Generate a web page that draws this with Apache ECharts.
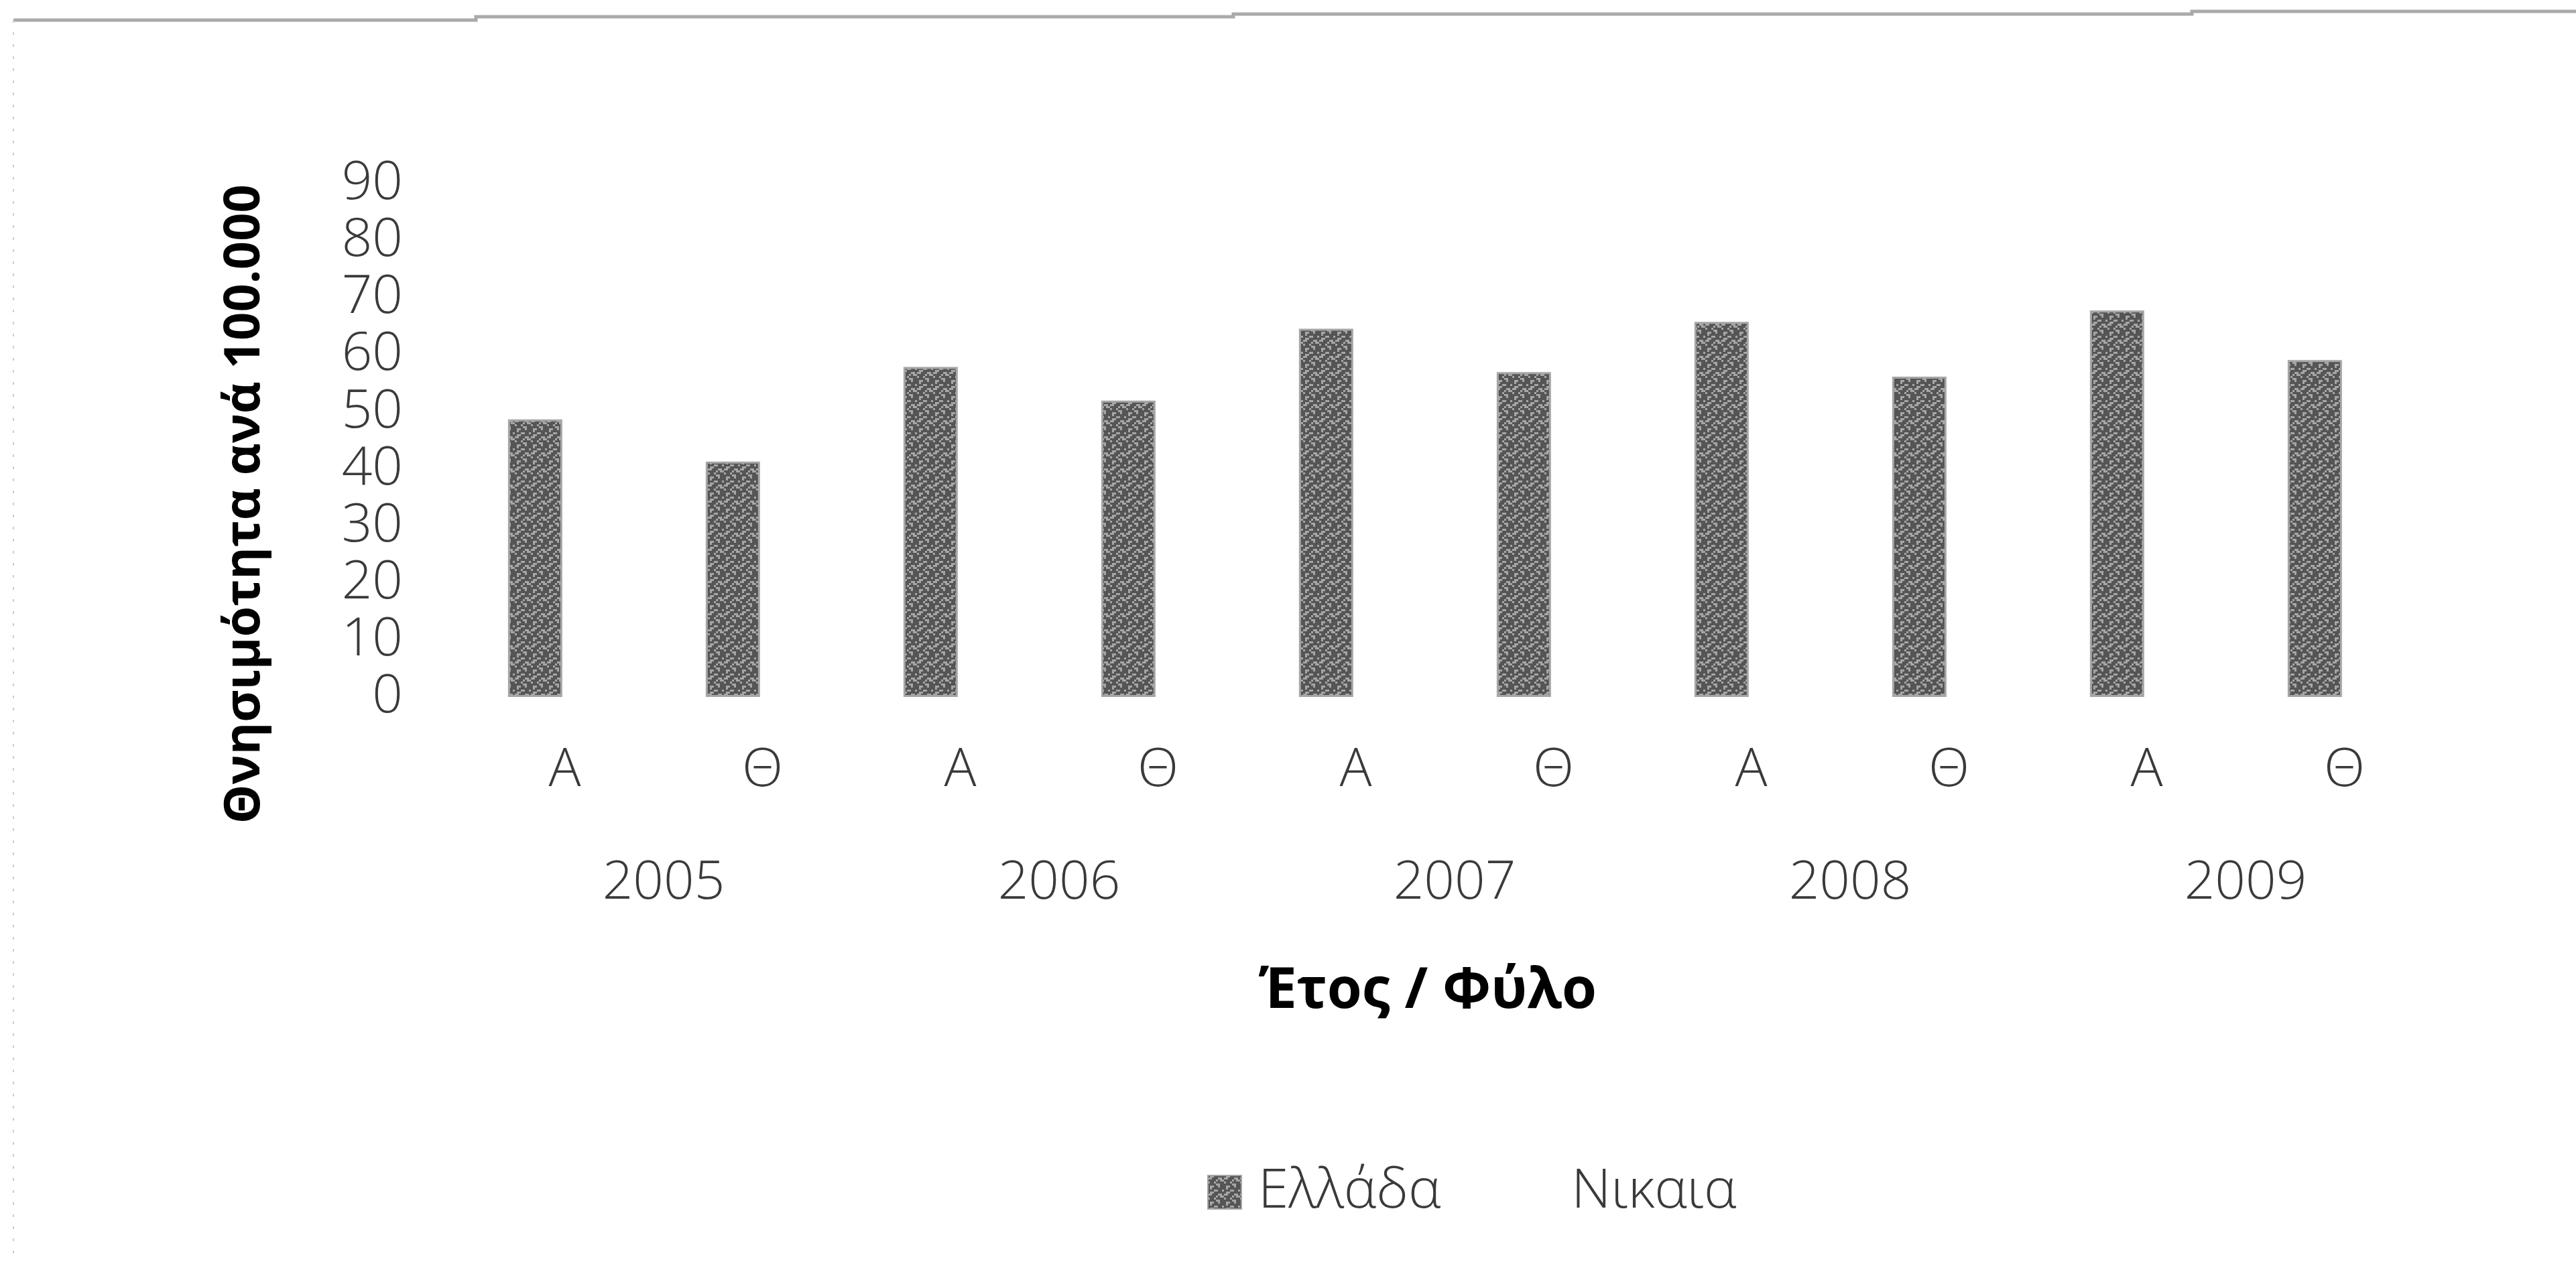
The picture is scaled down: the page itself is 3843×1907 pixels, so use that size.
<!DOCTYPE html>
<html>
<head>
<meta charset="utf-8">
<title>Θνησιμότητα</title>
<script src="https://cdn.jsdelivr.net/npm/echarts@6/dist/echarts.min.js"></script>
<style>
  html, body { margin: 0; padding: 0; background: #fff; }
  #main { width: 3843px; height: 1907px; }
</style>
</head>
<body>
<div id="main"></div>
<script>
// δεδομένα
var sexLabels = ['Α', 'Θ', 'Α', 'Θ', 'Α', 'Θ', 'Α', 'Θ', 'Α', 'Θ'];
var yearLabels = ['2005', '2006', '2007', '2008', '2009'];
var greeceValues = [48.7, 41.3, 57.9, 52.0, 64.6, 57.0, 65.8, 56.2, 67.8, 59.1];
// Νικαια: δεν φαίνονται ράβδοι στο γράφημα
var nikaiaValues = [null, null, null, null, null, null, null, null, null, null];
var yTicks = { min: 0, max: 90, step: 10 };

// μοτίβο γεμίσματος (σκούρο γκρι με ανοιχτές κηλίδες)
function makePattern() {
    var mask = [
        '01100000',
        '11000110',
        '00001011',
        '10010000',
        '00001100',
        '01100100',
        '01000000',
        '00011001'
    ];
    var cell = 3;
    var c = document.createElement('canvas');
    c.width = 8 * cell; c.height = 8 * cell;
    var ctx = c.getContext('2d');
    for (var y = 0; y < 8; y++) {
        for (var x = 0; x < 8; x++) {
            ctx.fillStyle = mask[y][x] === '1' ? '#a6a6a6' : '#555555';
            ctx.fillRect(x * cell, y * cell, cell, cell);
        }
    }
    return c;
}

var myChart = echarts.init(document.getElementById('main'));
var labelFont = "'Open Sans', 'Liberation Sans', sans-serif";

var option = {
    backgroundColor: '#ffffff',
    animation: false,
    grid: { left: 695, right: 198, top: 274.5, bottom: 867 },
    legend: {
        left: 1796,
        top: 1733,
        itemWidth: 50,
        itemHeight: 50,
        itemGap: 120,
        icon: 'rect',
        textStyle: { fontFamily: labelFont, fontWeight: 300, fontSize: 82, color: '#3a3a3a', padding: [0, 0, 0, 20] },
        data: ['Ελλάδα', 'Νικαια']
    },
    xAxis: [{
        type: 'category',
        data: sexLabels,
        axisLine: { show: false },
        axisTick: { show: false },
        axisLabel: { margin: 70, fontFamily: labelFont, fontWeight: 300, fontSize: 80, color: '#3a3a3a' }
    }, {
        type: 'category',
        data: yearLabels,
        position: 'bottom',
        axisLine: { show: false },
        axisTick: { show: false },
        axisLabel: { margin: 238, fontFamily: labelFont, fontWeight: 300, fontSize: 80, color: '#3a3a3a' },
        name: 'Έτος / Φύλο',
        nameLocation: 'middle',
        nameGap: 398,
        nameTextStyle: { fontFamily: "'Open Sans', sans-serif", fontWeight: 'bold', fontSize: 84, color: '#000', padding: [0, 80, 0, 0] }
    }],
    yAxis: {
        type: 'value',
        min: yTicks.min,
        max: yTicks.max,
        interval: yTicks.step,
        axisLine: { show: false },
        axisTick: { show: false },
        splitLine: { show: false },
        axisLabel: { margin: 94, fontFamily: labelFont, fontWeight: 300, fontSize: 80, color: '#3a3a3a' },
        name: 'Θνησιμότητα ανά 100.000',
        nameLocation: 'middle',
        nameGap: 292,
        nameTextStyle: { fontFamily: "'Open Sans', sans-serif", fontWeight: 'bold', fontSize: 74, color: '#000', padding: [0, 190, 0, 0] }
    },
    series: [{
        name: 'Ελλάδα',
        type: 'bar',
        xAxisIndex: 0,
        data: greeceValues,
        barWidth: 81,
        barGap: '9%',
        itemStyle: { color: { image: makePattern(), repeat: 'repeat' }, borderColor: '#a6a6a6', borderWidth: 3 }
    }, {
        name: 'Νικαια',
        type: 'bar',
        xAxisIndex: 0,
        data: nikaiaValues,
        barWidth: 81,
        itemStyle: { color: '#ffffff' }
    }],
    graphic: [{
        type: 'polyline',
        shape: { points: [[20, 30], [710, 30], [710, 25], [1840, 25], [1840, 21], [3270, 21], [3270, 17], [3843, 17]] },
        style: { stroke: '#aaaaaa', lineWidth: 5, fill: null },
        silent: true
    }, {
        type: 'line',
        shape: { x1: 20, y1: 30, x2: 20, y2: 1880 },
        style: { stroke: '#cccccc', lineWidth: 2, lineDash: [4, 14] },
        silent: true
    }]
};
myChart.setOption(option);
</script>
</body>
</html>
